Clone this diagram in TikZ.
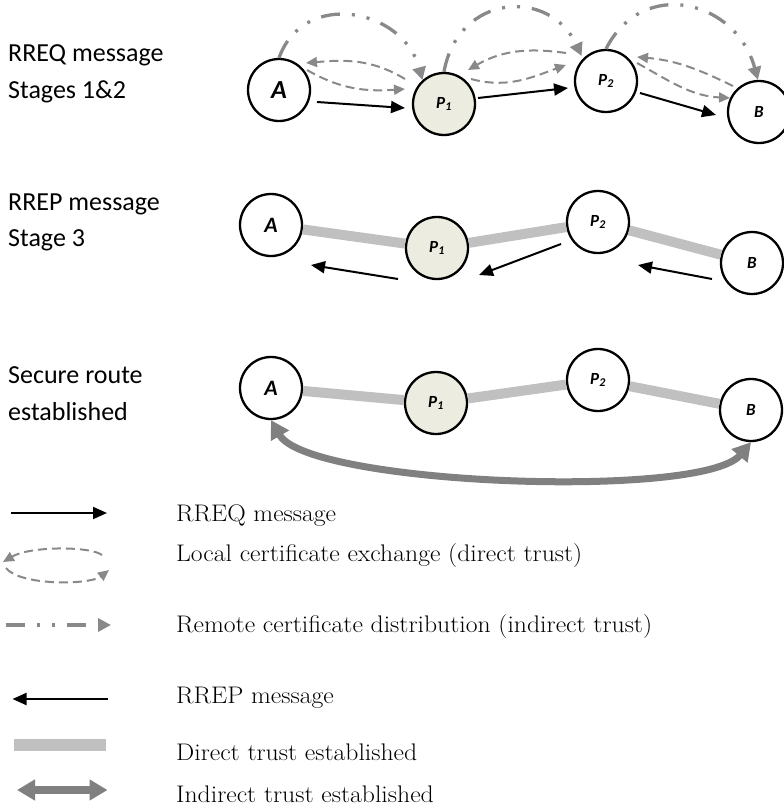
\documentclass[tikz,border=0pt]{standalone}
\usepackage{fontspec}
\newfontfamily\calibri{Carlito}
\newfontfamily\legendfont[FakeStretch=1.07]{Latin Modern Roman}
\usetikzlibrary{arrows.meta,calc}
\definecolor{peerfill}{RGB}{236,236,224}
\definecolor{certgray}{RGB}{137,137,137}
\definecolor{trustgray}{RGB}{192,192,192}
\definecolor{routegray}{RGB}{128,128,128}

\begin{document}
\begin{tikzpicture}[x=1pt,y=1pt,
    peer/.style={circle,draw,line width=2.3pt,minimum size=62pt,inner sep=0pt,fill=white,
      font=\calibri\bfseries\itshape\fontsize{17}{17}\selectfont},
    peerbig/.style={peer,font=\calibri\bfseries\itshape\fontsize{22}{22}\selectfont},
    rreq/.style={-{Triangle[length=14pt,width=12pt]},line width=2pt},
    cert/.style={-{Triangle[length=11pt,width=10pt]},certgray,line width=2pt,dash pattern=on 9pt off 5pt},
    remote/.style={-{Triangle[length=13pt,width=13pt]},certgray,line width=3.3pt,
      dash pattern=on 19pt off 12pt on 3pt off 12pt on 3pt off 12pt},
    trust/.style={trustgray,line width=10pt},
    indirect/.style={{Triangle[length=18pt,width=20pt]}-{Triangle[length=18pt,width=20pt]},routegray,line width=7pt},
    stage/.style={anchor=base west,inner sep=0pt,font=\calibri\fontsize{26}{30}\selectfont},
    legend/.style={anchor=base west,inner sep=0pt,font=\legendfont\fontsize{24}{28}\selectfont}]
  \useasboundingbox (0,0) rectangle (784,-811);

  % stage captions
  \node[stage] (rreqlbl) at (8,-61.7) {RREQ message};
  \node[stage] (rreqstg) at (8,-98) {Stages 1\&2};
  \node[stage] (rreplbl) at (8,-210) {RREP message};
  \node[stage] (rrepstg) at (8,-246.7) {Stage 3};
  \node[stage] (seclbl) at (8,-383) {Secure route};
  \node[stage] (secstg) at (8,-420) {established};

  % stages 1 and 2
  \node[peerbig,font=\calibri\bfseries\itshape\fontsize{26}{26}\selectfont] (qA) at (279,-90) {A};
  \node[peer,fill=peerfill] (qP1) at (444,-104) {P\textsubscript{1}};
  \node[peer] (qP2) at (606,-81) {P\textsubscript{2}};
  \node[peer] (qB) at (759,-112) {B};
  \draw[rreq] ($(qA)+(38,-12)$) -- ($(qP1)+(-39,-4)$);
  \draw[rreq] ($(qP1)+(34,6)$) -- ($(qP2)+(-38,-7)$);
  \draw[rreq] ($(qP2)+(34,-12)$) -- ($(qB)+(-43,-3)$);
  \draw[cert] ($(qP1)+(-39,25)$) to[out=149,in=5] ($(qA)+(27,27)$);
  \draw[cert] ($(qA)+(28,20)$) to[out=-30,in=184] ($(qP1)+(-39,15)$);
  \draw[cert] ($(qP2)+(-40,28)$) to[out=172,in=30] ($(qP1)+(24,34)$);
  \draw[cert] ($(qP1)+(27,25)$) to[out=-15,in=200] ($(qP2)+(-40,16)$);
  \draw[cert] ($(qB)+(-26,26)$) to[out=154,in=-5] ($(qP2)+(31,24)$);
  \draw[cert] ($(qP2)+(31,18)$) to[out=-29,in=177] ($(qB)+(-29,14)$);
  \draw[remote] (qA.north) to[out=70,in=105,looseness=1.3] (qP1.132);
  \draw[remote,shorten >=3pt] (qP1.north) to[out=80,in=115,looseness=1.45] (qP2.136);
  \draw[remote] (qP2.north) to[out=63,in=105,looseness=1.35] (qB.92);

  % stage 3
  \node[peerbig] (pA) at (271,-225) {A};
  \node[peer,fill=peerfill] (pP1) at (437,-248) {P\textsubscript{1}};
  \node[peer] (pP2) at (598,-222) {P\textsubscript{2}};
  \node[peer] (pB) at (752,-263) {B};
  \draw[trust] (pA) -- (pP1);
  \draw[trust] (pP1) -- (pP2);
  \draw[trust] (pP2) -- (pB);
  \draw[rreq] ($(pB)+(-40,-16)$) -- ($(pP2)+(40,-43)$);
  \draw[rreq] ($(pP2)+(-37,-22)$) -- ($(pP1)+(42,-27)$);
  \draw[rreq] ($(pP1)+(-39,-31)$) -- ($(pA)+(40,-40)$);

  % secure route
  \node[peerbig] (sA) at (271,-388) {A};
  \node[peer,fill=peerfill] (sP1) at (436,-403) {P\textsubscript{1}};
  \node[peer] (sP2) at (598,-380) {P\textsubscript{2}};
  \node[peer] (sB) at (751,-410) {B};
  \draw[trust] (sA) -- (sP1);
  \draw[trust] (sP1) -- (sP2);
  \draw[trust] (sP2) -- (sB);
  \draw[indirect] (sA.south) to[out=-60,in=-130,looseness=0.4] (sB.south);

  % legend
  \coordinate (kq1) at (11,-513);   \coordinate (kq2) at (107,-513);
  \coordinate (kl1) at (102,-555);  \coordinate (kl2) at (3,-562);
  \coordinate (kl3) at (6,-568);    \coordinate (kl4) at (109,-570);
  \coordinate (kr1) at (6,-625);    \coordinate (kr2) at (111,-625);
  \coordinate (kp1) at (107.5,-699); \coordinate (kp2) at (12.5,-699);
  \coordinate (kd1) at (14,-745);   \coordinate (kd2) at (106,-745);
  \coordinate (ki1) at (17,-790);   \coordinate (ki2) at (107.5,-790);
  \draw[rreq] (kq1) -- (kq2);
  \draw[cert] (kl1) .. controls (90,-546) and (30,-546) .. (kl2);
  \draw[cert] (kl3) .. controls (20,-586) and (90,-585) .. (kl4);
  \draw[remote] (kr1) -- (kr2);
  \draw[rreq] (kp1) -- (kp2);
  \draw[trust,line width=12pt] (kd1) -- (kd2);
  \draw[indirect,line width=8pt] (ki1) -- (ki2);
  \node[legend] (rreqtxt) at (176,-521.7) {RREQ message};
  \node[legend] (localtxt) at (176,-561.7) {Local certificate exchange (direct trust)};
  \node[legend] (remotetxt) at (176,-632) {Remote certificate distribution (indirect trust)};
  \node[legend] (rreptxt) at (176,-703) {RREP message};
  \node[legend] (directtxt) at (176,-760) {Direct trust established};
  \node[legend] (indirecttxt) at (176,-802) {Indirect trust established};
\end{tikzpicture}
\end{document}
